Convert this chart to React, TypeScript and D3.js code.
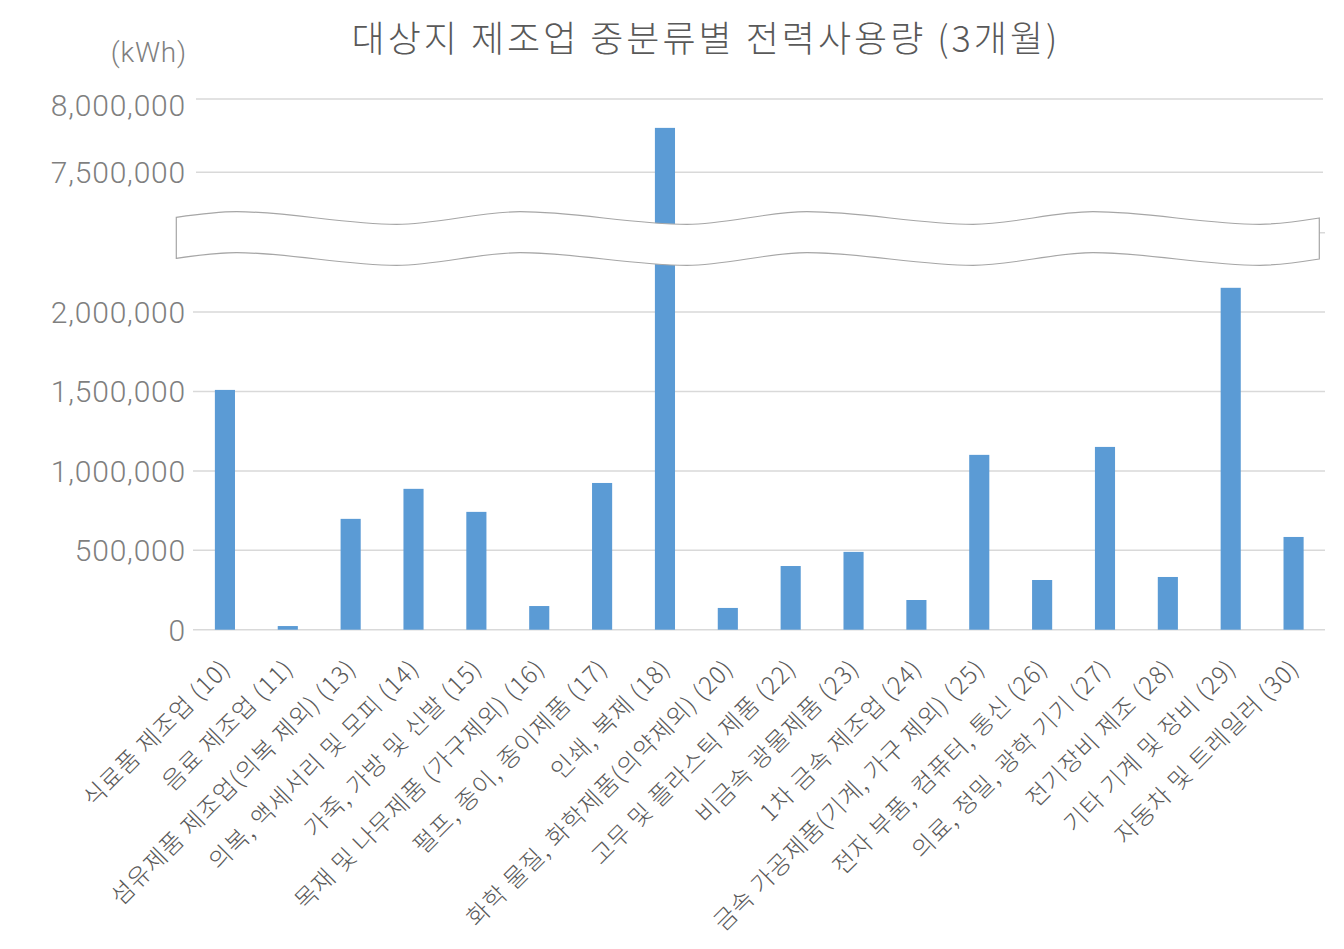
import React from "react";
import * as d3 from "d3";

const categories = [
  "식료품 제조업 (10)",
  "음료 제조업 (11)",
  "섬유제품 제조업(의복 제외) (13)",
  "의복, 액세서리 및 모피 (14)",
  "가죽, 가방 및 신발 (15)",
  "목재 및 나무제품 (가구제외) (16)",
  "펄프, 종이, 종이제품 (17)",
  "인쇄, 복제 (18)",
  "화학 물질, 화학제품(의약제외) (20)",
  "고무 및 플라스틱 제품 (22)",
  "비금속 광물제품 (23)",
  "1차 금속 제조업 (24)",
  "금속 가공제품(기계, 가구 제외) (25)",
  "전자 부품, 컴퓨터, 통신 (26)",
  "의료, 정밀, 광학 기기 (27)",
  "전기장비 제조 (28)",
  "기타 기계 및 장비 (29)",
  "자동차 및 트레일러 (30)",
];

const values = [
  1510000, 23000, 698000, 887000, 742000, 149000, 924000, 7803000, 137000,
  401000, 490000, 187000, 1101000, 313000, 1151000, 332000, 2153000, 584000,
];

const lowerTicks = [0, 500000, 1000000, 1500000, 2000000, 2500000];
const upperTicks = [7500000, 8000000];
const title = "대상지 제조업 중분류별 전력사용량 (3개월)";
const unitLabel = "(kWh)";

// break band outline (decorative wave)
const waveTop: [number, number][] = [
  [176.3, 217.3],
  [236.7, 211.7],
  [396.7, 224.3],
  [520, 211.7],
  [687, 224.3],
  [807, 211.7],
  [973, 224.3],
  [1093, 211.7],
  [1260, 224.3],
  [1319.3, 218],
];
const waveGap = 41;

export default function App() {
  const W = 1344;
  const H = 949;
  const x = d3
    .scaleBand<string>()
    .domain(categories)
    .range([193.5, 1325])
    .paddingInner(0.68)
    .paddingOuter(0.34);
  const yLow = d3.scaleLinear().domain([0, 2500000]).range([629.7, 232.7]);
  const yUp = d3.scaleLinear().domain([7000000, 8000000]).range([245.6, 99]);
  const y = (v: number) => (v <= 2500000 ? yLow(v) : yUp(v));
  const fmt = d3.format(",");

  const line = d3
    .line<[number, number]>()
    .x((d) => d[0])
    .y((d) => d[1])
    .curve(d3.curveMonotoneX);
  const bottom = waveTop.map((p) => [p[0], p[1] + waveGap] as [number, number]);
  const topPath = line(waveTop) as string;
  const bottomRev = (line(bottom.slice().reverse()) as string).replace(/^M/, "L");
  const bandPath = topPath + bottomRev + "Z";

  const tickFont = "Roboto, 'Noto Sans', sans-serif";
  const cjkFont = "'Noto Sans CJK KR', 'Noto Sans', sans-serif";

  return (
    <div style={{ position: "absolute", left: 0, top: 0 }}>
      <svg width={W} height={H} style={{ display: "block", background: "#fff" }}>
        <text
          x={706}
          y={52}
          textAnchor="middle"
          fontFamily={cjkFont}
          fontSize={36}
          fontWeight={300}
          letterSpacing={3}
          fill="#595959"
        >
          {title}
        </text>
        <text
          x={187}
          y={62}
          textAnchor="end"
          fontFamily={tickFont}
          fontSize={28}
          fontWeight={300}
          letterSpacing={0.8}
          fill="#7f7f7f"
        >
          {unitLabel}
        </text>

        {lowerTicks.map((t) => (
          <line
            key={"gl" + t}
            x1={193}
            x2={1325}
            y1={yLow(t)}
            y2={yLow(t)}
            stroke="#d9d9d9"
            strokeWidth={1.5}
          />
        ))}
        {upperTicks.map((t) => (
          <line
            key={"gu" + t}
            x1={196}
            x2={1323}
            y1={yUp(t)}
            y2={yUp(t)}
            stroke="#d9d9d9"
            strokeWidth={1.5}
          />
        ))}

        {lowerTicks
          .filter((t) => t < 2500000)
          .map((t) => (
            <text
              key={"tl" + t}
              x={186}
              y={yLow(t)}
              dy="0.36em"
              textAnchor="end"
              fontFamily={tickFont}
              fontSize={30}
              fontWeight={300}
              letterSpacing={0.8}
              fill="#7f7f7f"
            >
              {fmt(t)}
            </text>
          ))}
        {upperTicks.map((t, i) => (
          <text
            key={"tu" + t}
            x={186}
            y={yUp(t) + (i === upperTicks.length - 1 ? 6 : 0)}
            dy="0.36em"
            textAnchor="end"
            fontFamily={tickFont}
            fontSize={30}
            fontWeight={300}
            letterSpacing={0.8}
            fill="#7f7f7f"
          >
            {fmt(t)}
          </text>
        ))}

        {categories.map((c, i) => (
          <rect
            key={"b" + i}
            x={x(c)}
            width={x.bandwidth()}
            y={y(values[i])}
            height={yLow(0) - y(values[i])}
            fill="#5b9bd5"
          />
        ))}

        <path d={bandPath} fill="#ffffff" stroke="#a6a6a6" strokeWidth={1.2} />

        {categories.map((c, i) => {
          const cx = (x(c) as number) + x.bandwidth() / 2;
          return (
            <text
              key={"xl" + i}
              transform={`translate(${cx + 1},${664}) rotate(-45)`}
              textAnchor="end"
              dy="0.35em"
              fontFamily={cjkFont}
              fontSize={24}
              fontWeight={300}
              letterSpacing={1}
              fill="#595959"
            >
              {c}
            </text>
          );
        })}
      </svg>
    </div>
  );
}
